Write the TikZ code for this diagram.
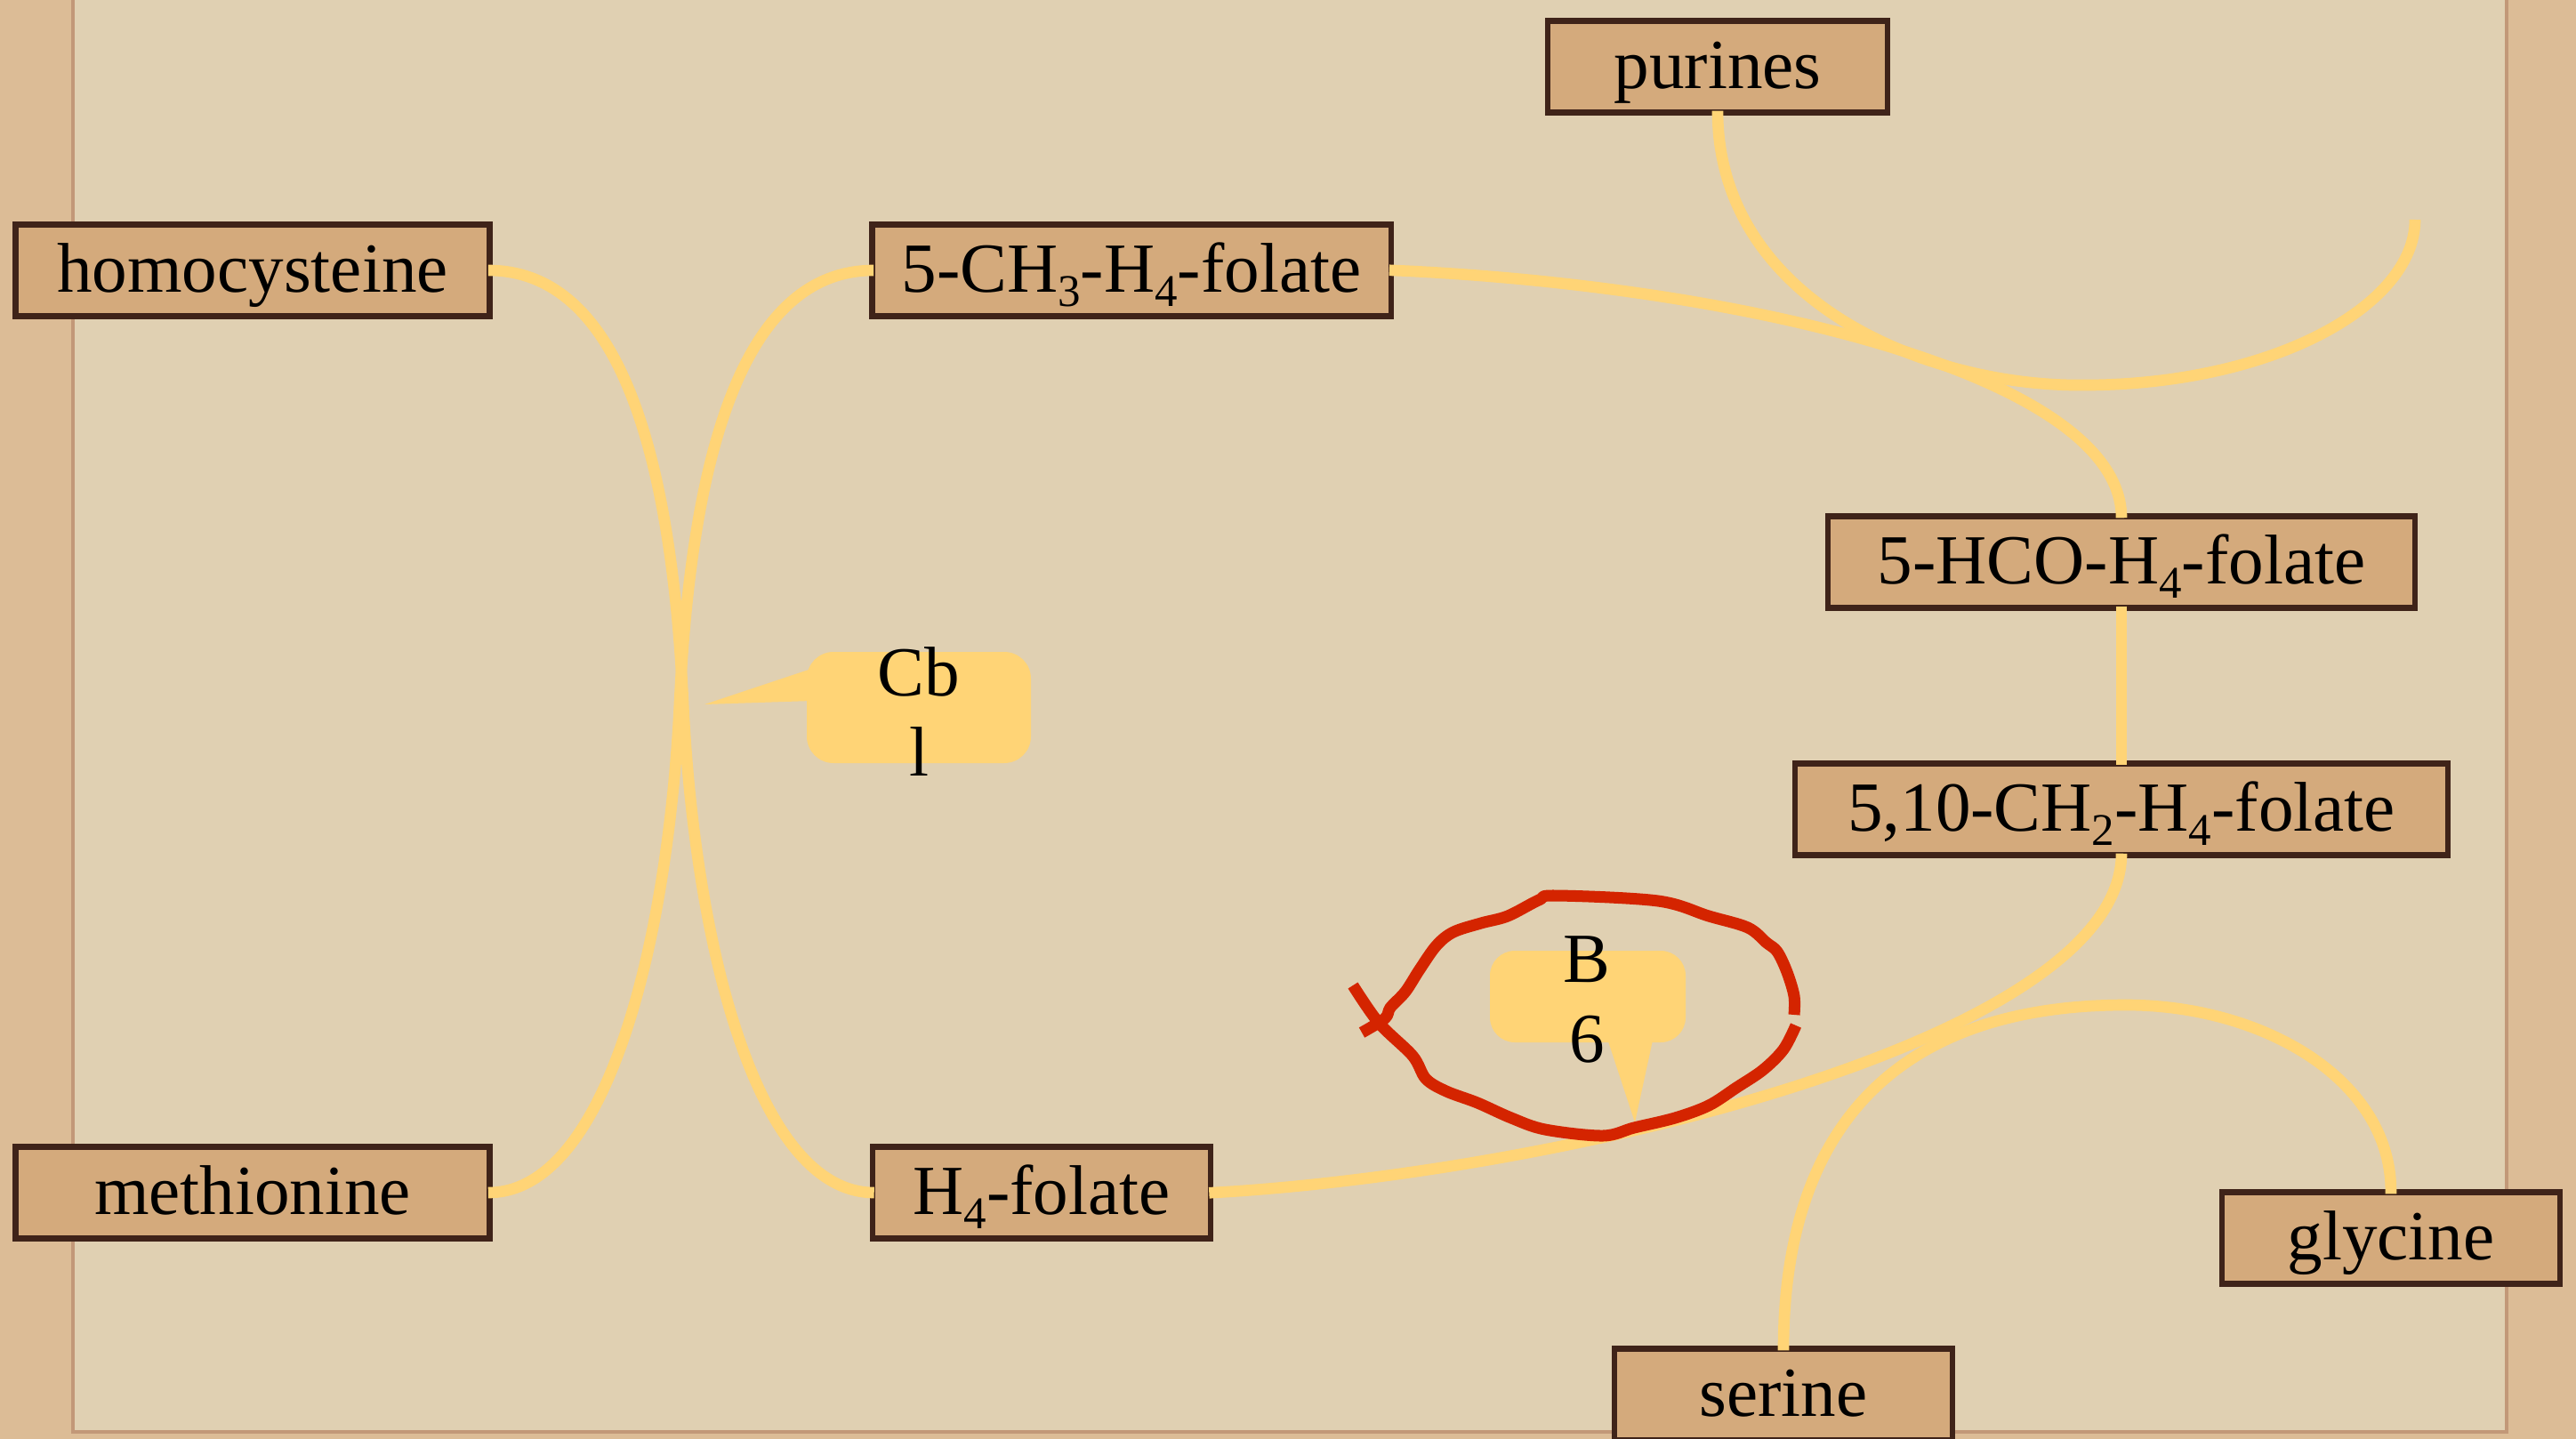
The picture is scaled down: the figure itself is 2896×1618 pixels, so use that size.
\documentclass[tikz,border=0pt]{standalone}
\usepackage{fontspec}
\setmainfont{Liberation Serif}
\definecolor{paper}{HTML}{E0D0B2}
\definecolor{frame}{HTML}{DCBC96}
\definecolor{paperedge}{HTML}{C29878}
\definecolor{boxfill}{HTML}{D4AA7C}
\definecolor{boxline}{HTML}{3F2319}
\definecolor{linkyellow}{HTML}{FFD476}
\definecolor{markred}{HTML}{D42400}
\newcommand\lowsub[1]{\raisebox{-4.6pt}{\fontsize{14.5}{15}\selectfont #1}}
\tikzset{
  compound/.style={draw=boxline, line width=1.8pt, fill=boxfill, inner sep=0pt,
    minimum height=1.03cm, text height=19pt, text depth=4.9pt,
    font=\fontsize{22.5}{26}\selectfont},
  link/.style={draw=linkyellow, line width=3.6pt, shorten <=-0.05cm, shorten >=-0.05cm},
  calloutfill/.style={fill=linkyellow},
  callouttext/.style={align=center, inner sep=0pt, font=\fontsize{22.5}{25.5}\selectfont},
  redmark/.style={draw=markred, line width=3.7pt, line join=round}
}
\begin{document}
\begin{tikzpicture}[x=0.01cm,y=-0.01cm]
\useasboundingbox (0,0) rectangle (2896,1618);
% background
\fill[frame] (0,0) rectangle (2896,1618);
\fill[paper] (82,0) rectangle (2818,1610);
\draw[paperedge, line width=1.2pt] (82,0) -- (82,1610) -- (2818,1610) -- (2818,0);

% compound boxes
\node[compound, minimum width=5.33cm] (homo) at (284,304) {homocysteine};
\node[compound, minimum width=5.33cm] (meth) at (284,1341) {methionine};
\node[compound, minimum width=5.83cm] (ch3) at (1272,304) {5-CH\lowsub{3}-H\lowsub{4}-folate};
\node[compound, minimum width=3.80cm] (h4) at (1171,1341) {H\lowsub{4}-folate};
\node[compound, minimum width=3.82cm] (pur) at (1931,75) {purines};
\node[compound, minimum width=6.60cm] (hco) at (2385,632) {5-HCO-H\lowsub{4}-folate};
\node[compound, minimum width=7.34cm] (ch2) at (2385,910) {5,10-CH\lowsub{2}-H\lowsub{4}-folate};
\node[compound, minimum width=3.80cm] (gly) at (2688,1392) {glycine};
\node[compound, minimum width=3.80cm] (ser) at (2005,1568) {serine};

% connectors
\coordinate (xa) at (768,790);
\coordinate (xb) at (764,790);
\coordinate (pend) at (2715,247);
\coordinate (pmid) at (2330,433);
\coordinate (gmid) at (2390,1130);
\draw[link] (homo.east) .. controls (700,304) and (755,520) .. (xa)
  .. controls (781,1060) and (850,1341) .. (h4.west);
\draw[link] (ch3.west) .. controls (832,304) and (777,520) .. (xb)
  .. controls (751,1060) and (682,1341) .. (meth.east);
\draw[link] (ch3.east) .. controls (1950,320) and (2385,420) .. (hco.north);
\draw[link, shorten >=0pt] (pur.south) .. controls (1931,330) and (2150,430) .. (pmid)
  .. controls (2550,436) and (2715,345) .. (pend);
\draw[link] (hco.south) -- (ch2.north);
\draw[link] (ch2.south) .. controls (2385,1170) and (1750,1320) .. (h4.east);
\draw[link] (ser.north) .. controls (2005,1250) and (2150,1130) .. (gmid)
  .. controls (2545,1130) and (2690,1215) .. (gly.north);

% Cb l callout
\fill[calloutfill, rounded corners=0.3cm] (907,733) rectangle (1159,858);
\fill[calloutfill] (912,752) -- (792,792) -- (912,788) -- cycle;
\node[callouttext] (cbl) at (1033,800) {Cb\\l};

% B 6 callout
\fill[calloutfill, rounded corners=0.28cm] (1675,1069) rectangle (1895,1172);
\fill[calloutfill] (1806,1165) -- (1838,1262) -- (1859,1165) -- cycle;
\node[callouttext] (bsix) at (1784,1124) {B\\6};

% red hand-drawn loop
\draw[redmark] plot[smooth, tension=0.55] coordinates {(1521,1108) (1550,1150) (1588,1187) (1603,1213) (1626,1227) (1661,1240) (1699,1257) (1737,1270) (1802,1277) (1837,1268) (1883,1257) (1921,1243) (1952,1223) (1982,1203) (2005,1180) (2019,1153)};
\draw[redmark] plot[smooth, tension=0.55] coordinates {(2017,1141) (2017,1120) (2009,1093) (1998,1070) (1986,1060) (1965,1043) (1921,1030) (1864,1013) (1749,1007) (1730,1012) (1695,1030) (1665,1038) (1634,1048) (1615,1063) (1596,1090) (1580,1115) (1563,1133) (1557,1145) (1531,1161)};
\end{tikzpicture}
\end{document}
